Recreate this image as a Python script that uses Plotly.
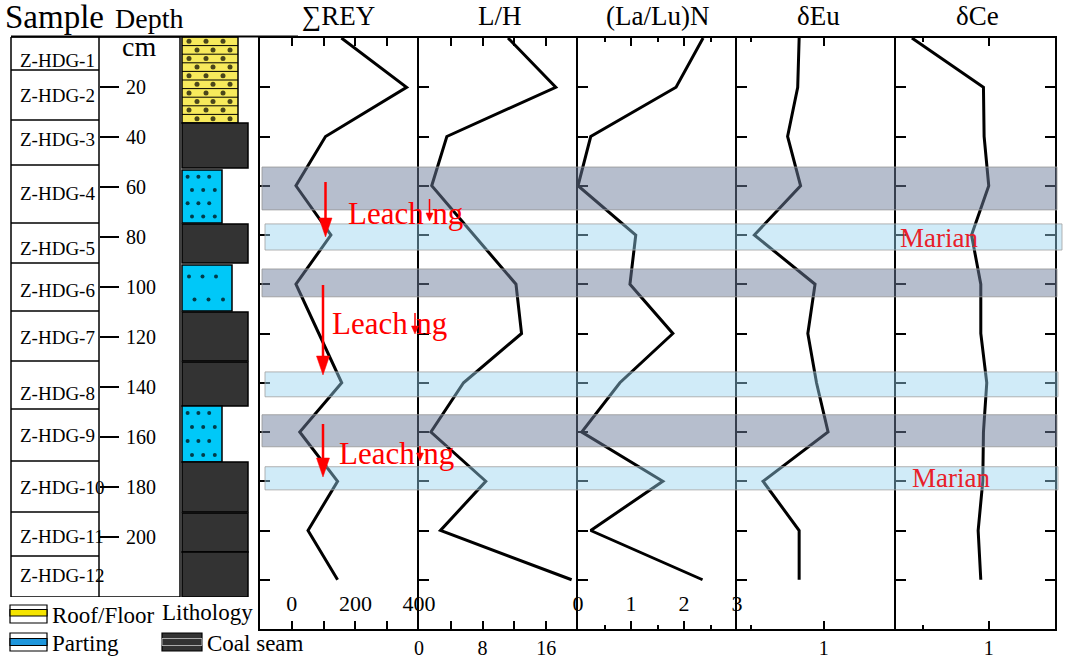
import plotly.graph_objects as go

W, H = 1065, 661
SERIF = "Liberation Serif"
RED = "#ff0000"

# ---------------- data ----------------
depth = [0, 20, 40, 60, 80, 100, 120, 140, 160, 180, 200, 220]          # cm
sum_rey = [156, 361, 106, 13, 123, 13, 85, 157, 25, 144, 51, 144]
l_h = [11.2, 17.2, 3.5, 1.6, 6.9, 12.2, 12.9, 5.6, 1.5, 8.4, 2.7, 19.2]
la_lu_n = [2.36, 1.85, 0.24, 0.0, 1.09, 0.98, 1.79, 0.79, 0.07, 1.60, 0.24, 2.35]
delta_eu = [0.83, 0.82, 0.75, 0.84, 0.52, 0.94, 0.89, 0.95, 1.03, 0.58, 0.83, 0.83]
delta_ce = [0.42, 0.96, 0.965, 1.00, 0.87, 0.94, 0.94, 0.985, 0.96, 0.955, 0.92, 0.94]
panel_titles = ["∑REY", "L/H", "(La/Lu)N", "δEu", "δCe"]

sample_names = ["Z-HDG-%d" % i for i in range(1, 13)]
sample_tops = [0, 13.2, 33.2, 51.2, 74.4, 90.4, 109.6, 129.6, 148.8, 169.6, 190.0, 207.6]
sample_base = 224.0
sample_label_depth = [9.6, 23.2, 40.8, 62.4, 84.4, 101.2, 120.0, 142.4, 159.2, 180.0, 199.6, 215.2]
depth_ticks = [20, 40, 60, 80, 100, 120, 140, 160, 180, 200]

lith_tops = [0, 34.4, 53.2, 74.8, 91.2, 110.0, 130.0, 147.6, 170.0, 190.4, 206.0]
lith_bases = [34.4, 52.4, 74.4, 90.4, 109.6, 129.6, 147.6, 170.0, 190.0, 206.0, 224.0]
lith_kinds = ["roof", "coal", "parting", "coal", "parting", "coal", "coal",
              "parting", "coal", "coal", "coal"]

dark_band_top = [52.4, 93.8, 153.0]
dark_band_base = [69.8, 105.1, 166.0]
light_band_top = [75.5, 135.6, 174.1]
light_band_base = [86.1, 145.7, 183.5]

legend_labels = ["Roof/Floor", "Parting", "Coal seam"]

# ---------------- styling / layout constants ----------------
lith_col_width = [56, 66, 40, 66, 50, 66, 66, 40, 66, 66, 66]
parting_rows = {2: 4, 4: 2, 7: 4}
LITH_X0 = 182
COAL = "#333333"
YELLOW = "#f7ea5c"
CYAN = "#00c8f8"
DARK_BAND = "rgba(110,125,155,0.5)"
LIGHT_BAND = "rgba(150,210,240,0.45)"


def px(x):
    return x / W


def py(y):
    return 1 - y / H


panel_px = [260, 419, 578, 737, 896, 1055]
panel_series = [sum_rey, l_h, la_lu_n, delta_eu, delta_ce]
panel_axis = [
    dict(range=[-100, 400], tick0=0, dtick=200, minor=100, mlen=8, pos="inside", so=7, fs=22),
    dict(range=[0, 20], tick0=0, dtick=8, minor=4, mlen=8, pos="outside", so=0, fs=20),
    dict(range=[0, 3], tick0=0, dtick=1, minor=0.5, mlen=4, pos="inside", so=7, fs=22),
    dict(range=[0.4, 1.5], tick0=0, dtick=1, minor=0.5, mlen=4, pos="outside", so=0, fs=20),
    dict(range=[0.3, 1.5], tick0=0, dtick=1, minor=0.5, mlen=4, pos="outside", so=0, fs=20),
]
y_dom = [py(629), py(38)]

fig = go.Figure()
layout = dict(
    width=W, height=H, autosize=False,
    margin=dict(l=0, r=0, t=0, b=0, pad=0, autoexpand=False),
    paper_bgcolor="white", plot_bgcolor="rgba(0,0,0,0)",
    showlegend=False,
    font=dict(family=SERIF, color="black"),
)

for i in range(5):
    n = i + 1
    a = panel_axis[i]
    fig.add_trace(go.Scatter(
        x=panel_series[i], y=depth, mode="lines",
        line=dict(color="black", width=3),
        xaxis="x%d" % n, yaxis="y%d" % n, hoverinfo="skip"))
    layout["xaxis%d" % n] = dict(
        domain=[px(panel_px[i]), px(panel_px[i + 1])], range=a["range"],
        anchor="y%d" % n, showline=True, linewidth=2, linecolor="black",
        mirror="ticks", ticks="inside", ticklen=8, tickwidth=2, tickcolor="black",
        tick0=a["tick0"], dtick=a["dtick"],
        minor=dict(dtick=a["minor"], tick0=a["tick0"], ticks="inside", ticklen=a["mlen"],
                   tickwidth=2, tickcolor="black", showgrid=False),
        showgrid=False, zeroline=False, automargin=False,
        tickfont=dict(family=SERIF, size=a["fs"], color="black"),
        ticklabelposition=a["pos"], ticklabeloverflow="allow",
        ticklabelstandoff=a["so"],
    )
    layout["yaxis%d" % n] = dict(
        domain=y_dom, range=[240, 0], anchor="x%d" % n,
        tickvals=depth[1:], ticks="inside", ticklen=10, tickwidth=2, tickcolor="black",
        showticklabels=False, showline=True, linewidth=2, linecolor="black",
        mirror="ticks" if n == 5 else False, showgrid=False, zeroline=False,
        automargin=False,
    )

# left-hand column (sample / depth / lithology) on its own axes, x in pixels
layout["xaxis6"] = dict(domain=[0, px(260)], range=[0, 260], anchor="y6",
                        visible=False, fixedrange=True, automargin=False)
layout["yaxis6"] = dict(domain=[py(597), py(37)], range=[sample_base, 0],
                        anchor="free", position=px(99), side="right",
                        tickvals=depth_ticks, ticktext=[str(d) for d in depth_ticks],
                        ticks="outside", ticklen=19, tickwidth=1.5, tickcolor="black",
                        showline=False, showgrid=False, zeroline=False, automargin=False,
                        tickfont=dict(family=SERIF, size=20, color="black"),
                        ticklabelstandoff=3)

shapes = []
annotations = []

# sample boxes
shapes.append(dict(type="rect", xref="x6", yref="y6", x0=11, x1=180, y0=0, y1=sample_base,
                   line=dict(color="black", width=1.5), layer="below"))
shapes.append(dict(type="line", xref="x6", yref="y6", x0=99, x1=99, y0=0, y1=sample_base,
                   line=dict(color="black", width=1.5), layer="below"))
for t in sample_tops[1:]:
    shapes.append(dict(type="line", xref="x6", yref="y6", x0=11, x1=99, y0=t, y1=t,
                       line=dict(color="black", width=1.5), layer="below"))
for name, d in zip(sample_names, sample_label_depth):
    annotations.append(dict(xref="x6", yref="y6", x=18, y=d, text=name, showarrow=False,
                            xanchor="left", yanchor="middle",
                            font=dict(family=SERIF, size=19, color="black")))

# lithology column
dot_x, dot_y, dot_s = [], [], []
for k, (t, b, kind) in enumerate(zip(lith_tops, lith_bases, lith_kinds)):
    w = lith_col_width[k]
    fill = {"roof": YELLOW, "coal": COAL, "parting": CYAN}[kind]
    shapes.append(dict(type="rect", xref="x6", yref="y6", x0=LITH_X0, x1=LITH_X0 + w,
                       y0=t, y1=b, fillcolor=fill, line=dict(color="black", width=1.5),
                       layer="below"))
    if kind == "roof":
        nstrip = 10
        h = (b - t) / nstrip
        for s in range(nstrip):
            if s > 0:
                yy = t + s * h
                shapes.append(dict(type="line", xref="x6", yref="y6", x0=LITH_X0,
                                   x1=LITH_X0 + w, y0=yy, y1=yy,
                                   line=dict(color="black", width=1), layer="below"))
            cx = [189, 206, 223] if s % 2 == 0 else [197, 213, 230]
            for x in cx:
                dot_x.append(x)
                dot_y.append(t + (s + 0.5) * h)
                dot_s.append(5)
    elif kind == "parting":
        nr = parting_rows[k]
        for r in range(nr):
            fr = [0.14, 0.41, 0.68] if r % 2 == 0 else [0.25, 0.53, 0.82]
            for f in fr:
                dot_x.append(LITH_X0 + w * f)
                dot_y.append(t + (r + 0.5) * (b - t) / nr)
                dot_s.append(4)
fig.add_trace(go.Scatter(x=dot_x, y=dot_y, mode="markers", xaxis="x6", yaxis="y6",
                         marker=dict(color="black", size=dot_s, line=dict(width=0)),
                         hoverinfo="skip"))

# top line across left block
shapes.append(dict(type="line", xref="paper", yref="paper", x0=px(11), x1=px(298),
                   y0=py(36.5), y1=py(36.5), line=dict(color="black", width=2)))

# bands across the geochemistry panels
for t, b in zip(dark_band_top, dark_band_base):
    shapes.append(dict(type="rect", xref="paper", yref="y", x0=px(262), x1=px(1057),
                       y0=t, y1=b, fillcolor=DARK_BAND,
                       line=dict(color="rgba(150,150,150,0.8)", width=1), layer="above"))
for j, (t, b) in enumerate(zip(light_band_top, light_band_base)):
    x1 = 1062 if j == 0 else 1058
    shapes.append(dict(type="rect", xref="paper", yref="y", x0=px(265), x1=px(x1),
                       y0=t, y1=b, fillcolor=LIGHT_BAND,
                       line=dict(color="rgba(160,160,160,0.8)", width=1), layer="above"))


def arrow(x, y0, y1, head, half, w):
    shapes.append(dict(type="line", xref="paper", yref="paper", x0=px(x), x1=px(x),
                       y0=py(y0), y1=py(y1 - head + 1), line=dict(color=RED, width=w),
                       layer="above"))
    shapes.append(dict(type="path", xref="paper", yref="paper",
                       path="M %f,%f L %f,%f L %f,%f Z" % (
                           px(x - half), py(y1 - head), px(x + half), py(y1 - head),
                           px(x), py(y1)),
                       fillcolor=RED, line=dict(color=RED, width=0.5), layer="above"))


for (x, y0, y1) in [(325.5, 182, 237), (323, 285, 375), (323, 424, 477)]:
    arrow(x, y0, y1, 19, 6.5, 2.5)
for (x, y0, y1) in [(429.5, 199, 221), (415, 313, 334), (420, 446, 461)]:
    arrow(x, y0, y1, 8, 3.5, 1.5)

leach_text = "Leach<span style='color:rgba(0,0,0,0)'>i</span>ng"
for (x, y) in [(346, 213), (330, 323), (337, 453)]:
    annotations.append(dict(xref="paper", yref="paper", x=px(x), y=py(y), text=leach_text,
                            showarrow=False, xanchor="left", yanchor="middle",
                            font=dict(family=SERIF, size=31, color=RED)))
for (x, y) in [(898, 238), (910, 478)]:
    annotations.append(dict(xref="paper", yref="paper", x=px(x), y=py(y), text="Marian",
                            showarrow=False, xanchor="left", yanchor="middle",
                            font=dict(family=SERIF, size=27, color="#e8202a")))

# panel titles
for i, t in enumerate(panel_titles):
    cx = [338, 500, 657, 818, 977][i]
    annotations.append(dict(xref="paper", yref="paper", x=px(cx), y=py(16), text=t,
                            showarrow=False, xanchor="center", yanchor="middle",
                            font=dict(family=SERIF, size=27, color="black")))

annotations.append(dict(xref="paper", yref="paper", x=px(3), y=py(17), text="Sample",
                        showarrow=False, xanchor="left", yanchor="middle",
                        font=dict(family=SERIF, size=33, color="black")))
annotations.append(dict(xref="paper", yref="paper", x=px(113), y=py(18), text="Depth",
                        showarrow=False, xanchor="left", yanchor="middle",
                        font=dict(family=SERIF, size=28, color="black")))
annotations.append(dict(xref="paper", yref="paper", x=px(120), y=py(46), text="cm",
                        showarrow=False, xanchor="left", yanchor="middle",
                        font=dict(family=SERIF, size=28, color="black")))
annotations.append(dict(xref="paper", yref="paper", x=px(160), y=py(612), text="Lithology",
                        showarrow=False, xanchor="left", yanchor="middle",
                        font=dict(family=SERIF, size=23, color="black")))

# legend swatches
def rect_px(x0, y0, x1, y1, fill, lw=1.2, lc="black"):
    shapes.append(dict(type="rect", xref="paper", yref="paper", x0=px(x0), x1=px(x1),
                       y0=py(y1), y1=py(y0), fillcolor=fill, line=dict(color=lc, width=lw)))


rect_px(10, 605, 47, 623, "white")
rect_px(10, 609.5, 47, 616, "#f5e400")
rect_px(10, 633, 47, 651, "white")
rect_px(10, 638.5, 47, 645.5, "#1e96dc")
rect_px(162, 633, 202, 651, COAL)
rect_px(162, 638.5, 202, 645.5, COAL, lw=1, lc="#aaaaaa")
for lab, (x, y) in zip(legend_labels, [(50, 615), (50, 643), (205, 643)]):
    annotations.append(dict(xref="paper", yref="paper", x=px(x), y=py(y), text=lab,
                            showarrow=False, xanchor="left", yanchor="middle",
                            font=dict(family=SERIF, size=23, color="black")))

layout["shapes"] = shapes
layout["annotations"] = annotations
fig.update_layout(**layout)
fig.write_html(
    "out.html",
    config={"responsive": False, "displayModeBar": False, "staticPlot": True},
    post_script="document.body.style.margin='0px';document.body.style.overflow='hidden';",
)
